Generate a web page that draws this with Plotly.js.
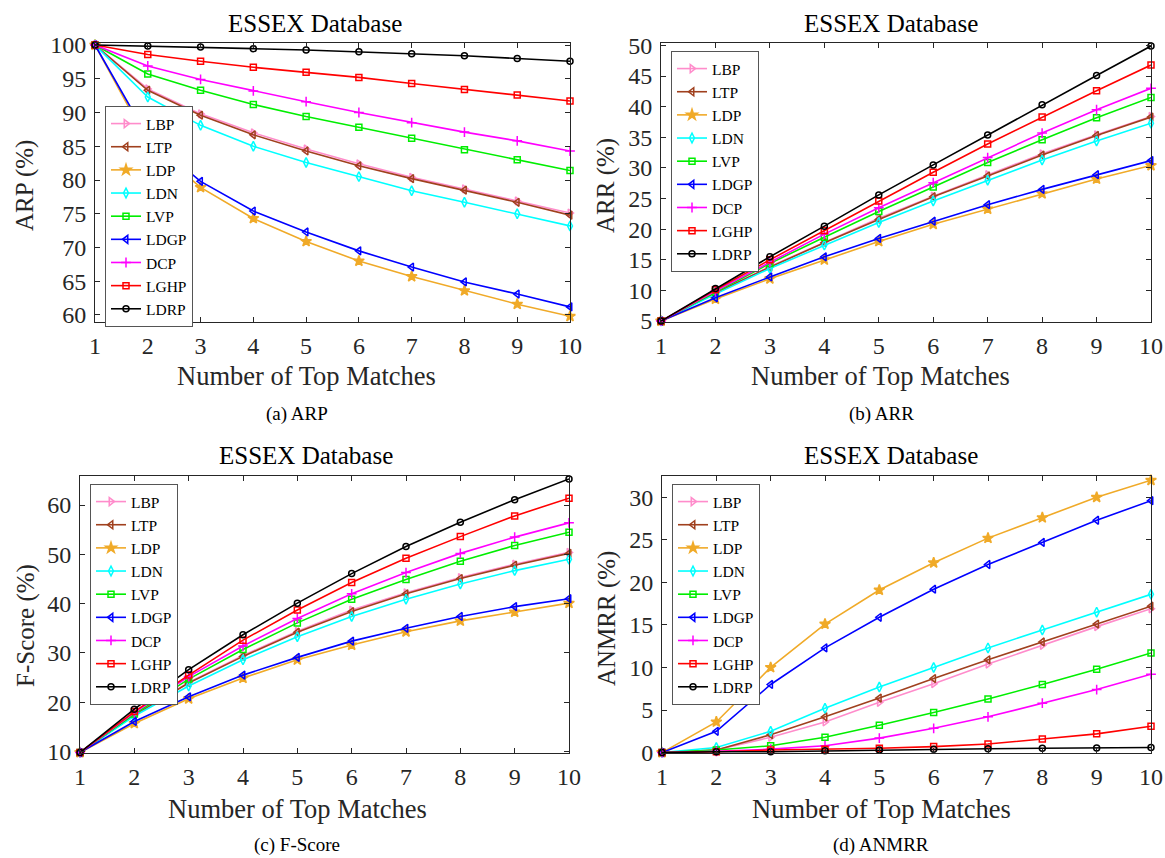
<!DOCTYPE html>
<html>
<head>
<meta charset="utf-8">
<script src="https://cdn.plot.ly/plotly-3.0.1.min.js"></script>
<style>
html,body{margin:0;padding:0;background:#fff;}
#chart{width:1165px;height:858px;}
</style>
</head>
<body>
<div id="chart"></div>
<script>
// ---------- data ----------
const topMatches = [1, 2, 3, 4, 5, 6, 7, 8, 9, 10];
const methodNames = ["LBP", "LTP", "LDP", "LDN", "LVP", "LDGP", "DCP", "LGHP", "LDRP"];

// ARP (%) — order follows methodNames
const arpValues = [
  [100, 93.5, 89.8, 87.0, 84.6, 82.4, 80.4, 78.7, 76.9, 75.1],
  [100, 93.3, 89.6, 86.7, 84.3, 82.1, 80.2, 78.5, 76.7, 74.8],
  [100, 85.6, 78.9, 74.3, 70.9, 68.0, 65.7, 63.6, 61.6, 59.8],
  [100, 92.3, 88.1, 85.0, 82.6, 80.5, 78.4, 76.7, 75.0, 73.2],
  [100, 95.7, 93.3, 91.2, 89.4, 87.8, 86.2, 84.5, 83.0, 81.4],
  [100, 86.3, 79.8, 75.4, 72.3, 69.5, 67.1, 64.9, 63.1, 61.2],
  [100, 96.9, 94.9, 93.2, 91.6, 90.0, 88.5, 87.1, 85.8, 84.3],
  [100, 98.6, 97.6, 96.7, 95.95, 95.2, 94.3, 93.4, 92.6, 91.7],
  [100, 99.85, 99.7, 99.46, 99.26, 99.0, 98.7, 98.4, 98.0, 97.6]
];
// ARR (%)
const arrValues = [
  [5, 9.65, 13.9, 17.9, 21.8, 25.4, 28.9, 32.3, 35.4, 38.4],
  [5, 9.6, 13.8, 17.8, 21.6, 25.3, 28.7, 32.1, 35.3, 38.3],
  [5, 8.6, 11.9, 15.0, 18.0, 20.8, 23.3, 25.8, 28.2, 30.4],
  [5, 9.4, 13.6, 17.4, 21.1, 24.6, 28.0, 31.3, 34.4, 37.3],
  [5, 9.7, 14.4, 18.7, 22.9, 26.9, 30.9, 34.6, 38.2, 41.5],
  [5, 8.8, 12.2, 15.5, 18.5, 21.3, 24.0, 26.5, 28.9, 31.2],
  [5, 9.9, 14.6, 19.2, 23.5, 27.6, 31.7, 35.7, 39.5, 43.0],
  [5, 10.1, 15.0, 19.8, 24.6, 29.3, 33.9, 38.3, 42.6, 46.8],
  [5, 10.3, 15.5, 20.5, 25.6, 30.5, 35.4, 40.3, 45.1, 49.9]
];
// F-Score (%)
const fscoreValues = [
  [9.8, 17.4, 24.0, 29.5, 34.4, 38.7, 42.2, 45.3, 48.0, 50.4],
  [9.8, 17.4, 23.9, 29.3, 34.2, 38.4, 42.0, 45.1, 47.8, 50.2],
  [9.8, 15.7, 20.7, 24.9, 28.6, 31.6, 34.3, 36.5, 38.3, 40.1],
  [9.8, 17.2, 23.3, 28.6, 33.3, 37.4, 40.9, 44.0, 46.7, 49.0],
  [9.8, 17.6, 24.7, 30.7, 36.1, 40.9, 44.9, 48.6, 51.8, 54.5],
  [9.8, 16.1, 21.1, 25.5, 29.1, 32.4, 35.0, 37.4, 39.4, 41.0],
  [9.8, 17.9, 25.2, 31.4, 37.0, 42.0, 46.3, 50.2, 53.5, 56.4],
  [9.8, 18.1, 25.5, 32.6, 38.7, 44.3, 49.2, 53.6, 57.8, 61.4],
  [9.8, 18.6, 26.6, 33.7, 40.1, 46.1, 51.6, 56.5, 61.1, 65.3]
];
// ANMRR (%)
const anmrrValues = [
  [0, 0.3, 1.8, 3.6, 5.9, 8.1, 10.4, 12.6, 14.8, 16.9],
  [0, 0.3, 2.1, 4.2, 6.4, 8.7, 10.9, 13.0, 15.1, 17.2],
  [0, 3.6, 10.0, 15.1, 19.1, 22.3, 25.2, 27.6, 30.0, 32.0],
  [0, 0.6, 2.5, 5.2, 7.7, 10.0, 12.3, 14.4, 16.5, 18.6],
  [0, 0.3, 0.8, 1.8, 3.2, 4.7, 6.3, 8.0, 9.8, 11.7],
  [0, 2.5, 8.0, 12.3, 15.9, 19.2, 22.1, 24.7, 27.3, 29.6],
  [0, 0.15, 0.4, 0.8, 1.7, 2.85, 4.2, 5.8, 7.4, 9.2],
  [0, 0.1, 0.3, 0.4, 0.5, 0.7, 1.0, 1.6, 2.2, 3.1],
  [0, 0.1, 0.1, 0.2, 0.3, 0.4, 0.45, 0.5, 0.55, 0.6]
];

const panelTitles = ["ESSEX Database", "ESSEX Database", "ESSEX Database", "ESSEX Database"];
const yTitles = ["ARP (%)", "ARR (%)", "F-Score (%)", "ANMRR (%)"];
const xTitle = "Number of Top Matches";
const captions = ["(a) ARP", "(b) ARR", "(c) F-Score", "(d) ANMRR"];

// ---------- styles ----------
const colors = ["#ff8ccb", "#a0401e", "#f0aa28", "#00ffff", "#00ee00", "#0000ff", "#ff00ff", "#ff0000", "#000000"];
const symbols = ["triangle-right-open", "triangle-left-open", "star", "diamond-tall-open", "square-open",
                 "triangle-left-open", "cross-thin-open", "square-open", "circle-open"];
const msize = [7, 7, 8, 7, 6, 7, 7, 6, 6];

const W = 1165, H = 858;
const FONT = "'Liberation Serif', 'Times New Roman', Times, serif";
const AX = "#262626";

// pixel geometry of each panel [left, right, top, bottom]
const boxes = [
  [95, 570, 43, 322],
  [661, 1151, 43, 322],
  [80, 569, 476, 753],
  [662, 1151, 476, 753]
];
const yRanges = [[58.96, 100.3], [4.85, 50.4], [9.7, 65.9], [-0.05, 32.5]];
const yDticks = [5, 5, 10, 5];
const legendPos = [[105, 106], [671, 51], [90, 484], [672, 484]];
const titlePos = [[315, 23], [891, 23], [306, 455], [891, 455]];
const xTitlePos = [[306, 376], [880, 376], [297, 809], [881, 809]];
const yTitlePos = [[25, 186], [606, 186], [26, 626], [607, 619]];
const captionPos = [[297, 414], [881, 414], [297, 845], [881, 845]];

const datasets = [arpValues, arrValues, fscoreValues, anmrrValues];

const px = v => v / W;
const py = v => 1 - v / H;

const traces = [];
const layout = {
  width: W, height: H,
  margin: {l: 0, r: 0, t: 0, b: 0},
  paper_bgcolor: "#ffffff",
  plot_bgcolor: "#ffffff",
  font: {family: FONT, color: "#262626"},
  showlegend: true,
  annotations: []
};

datasets.forEach((data, p) => {
  const sfx = p === 0 ? "" : String(p + 1);
  const b = boxes[p];
  const axCommon = {
    showline: true, linecolor: AX, linewidth: 1, mirror: "ticks",
    ticks: "inside", ticklen: 5, tickwidth: 1, tickcolor: AX,
    showgrid: false, zeroline: false, fixedrange: true,
    ticklabeloverflow: "allow",
    tickfont: {family: FONT, size: 24, color: "#262626"}
  };
  layout["xaxis" + sfx] = Object.assign({}, axCommon, {
    domain: [px(b[0]), px(b[1])],
    anchor: "y" + sfx,
    range: [1, 10], tickmode: "array", tickvals: topMatches, ticktext: topMatches.map(String),
    ticklabelstandoff: 2
  });
  layout["yaxis" + sfx] = Object.assign({}, axCommon, {
    domain: [py(b[3]), py(b[2])],
    anchor: "x" + sfx,
    range: yRanges[p], dtick: yDticks[p], tick0: 0,
    ticklabelstandoff: 3
  });
  const legName = "legend" + sfx;
  layout[legName] = {
    x: px(legendPos[p][0]), y: py(legendPos[p][1]),
    xanchor: "left", yanchor: "top",
    bgcolor: "#ffffff", bordercolor: "#555555", borderwidth: 1,
    font: {family: FONT, size: 15.5, color: "#000000"},
    itemwidth: 30, tracegroupgap: 0
  };
  data.forEach((vals, i) => {
    traces.push({
      type: "scatter", mode: "lines+markers",
      x: topMatches, y: vals, name: methodNames[i],
      xaxis: "x" + sfx, yaxis: "y" + sfx, legend: legName,
      cliponaxis: false,
      line: {color: colors[i], width: 1.6},
      marker: {symbol: symbols[i], size: msize[i], color: colors[i],
               line: {color: colors[i], width: 1.5}},
      hoverinfo: "x+y+name"
    });
  });
  layout.annotations.push({
    text: panelTitles[p], xref: "paper", yref: "paper",
    x: px(titlePos[p][0]), y: py(titlePos[p][1]), xanchor: "center", yanchor: "middle",
    showarrow: false, font: {family: FONT, size: 25, color: "#000000"}
  });
  layout.annotations.push({
    text: xTitle, xref: "paper", yref: "paper",
    x: px(xTitlePos[p][0]), y: py(xTitlePos[p][1]), xanchor: "center", yanchor: "middle",
    showarrow: false, font: {family: FONT, size: 26.5, color: "#262626"}
  });
  layout.annotations.push({
    text: yTitles[p], xref: "paper", yref: "paper", textangle: -90,
    x: px(yTitlePos[p][0]), y: py(yTitlePos[p][1]), xanchor: "center", yanchor: "middle",
    showarrow: false, font: {family: FONT, size: 25, color: "#262626"}
  });
  layout.annotations.push({
    text: captions[p], xref: "paper", yref: "paper",
    x: px(captionPos[p][0]), y: py(captionPos[p][1]), xanchor: "center", yanchor: "middle",
    showarrow: false, font: {family: FONT, size: 19, color: "#000000"}
  });
});

Plotly.newPlot("chart", traces, layout, {displayModeBar: false, responsive: false});
</script>
</body>
</html>
